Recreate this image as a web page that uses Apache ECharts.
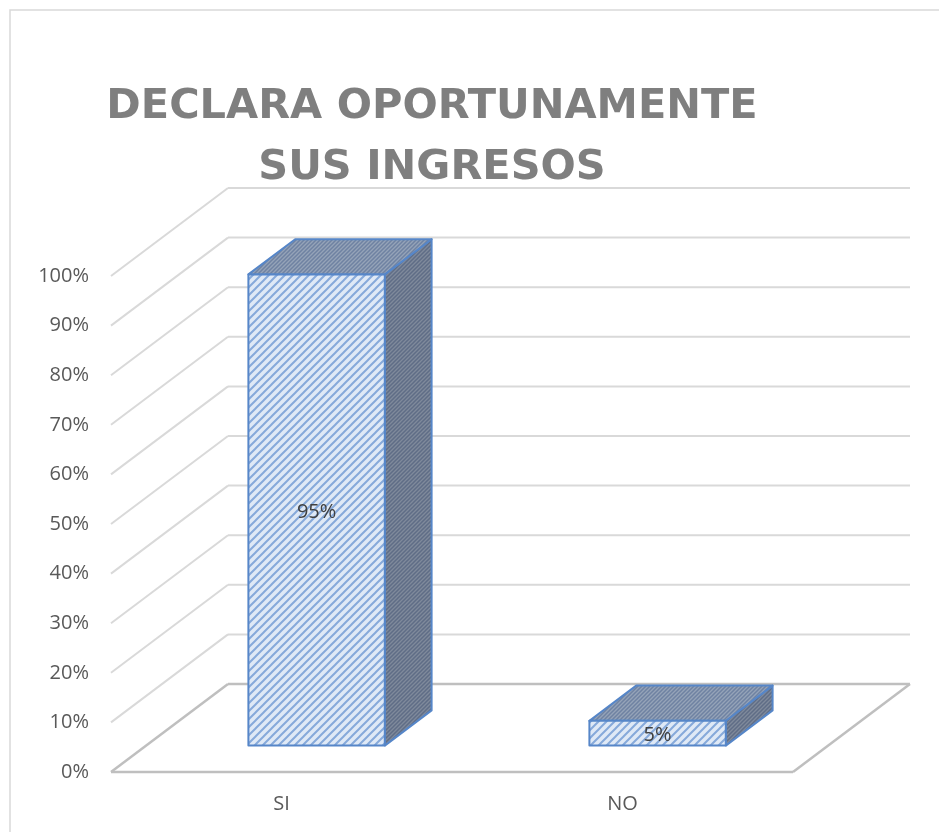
<!DOCTYPE html>
<html>
<head>
<meta charset="utf-8">
<script src="https://cdn.jsdelivr.net/npm/echarts@6/dist/echarts.min.js"></script>
<style>
  html, body { margin: 0; padding: 0; background: #fff; }
  #chart { width: 939px; height: 832px; }
</style>
</head>
<body>
<div id="chart"></div>
<script>
var categories = ['SI', 'NO'];
var values = [95, 5];
var valueLabels = ['95%', '5%'];
var yTicks = [0, 10, 20, 30, 40, 50, 60, 70, 80, 90, 100];

// oblique depth of the 3d box
var DX = 117, DY = -88;

function makePattern(size, bg, fg, lw) {
	var c = document.createElement('canvas');
	c.width = size;
	c.height = size;
	var ctx = c.getContext('2d');
	ctx.fillStyle = bg;
	ctx.fillRect(0, 0, size, size);
	ctx.strokeStyle = fg;
	ctx.lineWidth = lw;
	ctx.beginPath();
	ctx.moveTo(-1, size + 1);
	ctx.lineTo(size + 1, -1);
	ctx.moveTo(-1, 1);
	ctx.lineTo(1, -1);
	ctx.moveTo(size - 1, size + 1);
	ctx.lineTo(size + 1, size - 1);
	ctx.stroke();
	return { image: c, repeat: 'repeat' };
}

var frontFill = makePattern(8, '#dfe9f6', '#86a9da', 2);
var topFill = makePattern(4, '#95a3b8', '#6f82a2', 1.5);
var sideFill = makePattern(4, '#7f8a9b', '#5f6d86', 1.5);
var edgeColor = '#5686c8';

function renderWalls(params, api) {
	var cs = params.coordSys;
	var v = api.value(1);
	var y = api.coord([0, v])[1];
	var x0 = cs.x, x1 = cs.x + cs.width;
	var floor = v === 0;
	var st = { stroke: floor ? '#bfbfbf' : '#d9d9d9', lineWidth: floor ? 2.5 : 2, fill: null };
	var children = [
		{ type: 'line', shape: { x1: x0, y1: y, x2: x0 + DX, y2: y + DY }, style: st },
		{ type: 'line', shape: { x1: x0 + DX, y1: y + DY, x2: x1 + DX, y2: y + DY }, style: st }
	];
	if (floor) {
		children.push({ type: 'line', shape: { x1: x0, y1: y, x2: x1, y2: y }, style: st });
		children.push({ type: 'line', shape: { x1: x1, y1: y, x2: x1 + DX, y2: y + DY }, style: st });
	}
	return { type: 'group', children: children };
}

function renderBar(params, api) {
	var idx = api.value(0);
	var v = api.value(1);
	var base = api.coord([idx, 0]);
	var topPt = api.coord([idx, v]);
	var w = api.size([1, 0])[0] * 0.4;
	var fdx = DX * 0.3, fdy = DY * 0.3;
	var bdx = DX * 0.4, bdy = DY * 0.4;
	var l = base[0] - w / 2 + fdx, r = base[0] + w / 2 + fdx;
	var b = base[1] + fdy, t = topPt[1] + fdy;
	var line = { stroke: edgeColor, lineWidth: 2, lineJoin: 'round' };
	return {
		type: 'group',
		children: [
			{ type: 'polygon', shape: { points: [[r, b], [r + bdx, b + bdy], [r + bdx, t + bdy], [r, t]] },
				style: Object.assign({ fill: sideFill }, line) },
			{ type: 'polygon', shape: { points: [[l, t], [r, t], [r + bdx, t + bdy], [l + bdx, t + bdy]] },
				style: Object.assign({ fill: topFill }, line) },
			{ type: 'rect', shape: { x: l, y: t, width: r - l, height: b - t },
				style: Object.assign({ fill: frontFill }, line) },
			{ type: 'text', x: (l + r) / 2, y: (t + b) / 2 + 2,
				style: { text: valueLabels[idx], fill: '#404040', font: '20px "Open Sans"', align: 'center', verticalAlign: 'middle' } }
		]
	};
}

var chart = echarts.init(document.getElementById('chart'), null, { renderer: 'canvas' });
chart.setOption({
	animation: false,
	title: {
		text: 'DECLARA OPORTUNAMENTE\nSUS INGRESOS',
		left: 427,
		top: 72,
		textAlign: 'center',
		textStyle: {
			fontFamily: 'DejaVu Sans',
			fontWeight: 'bold',
			fontSize: 41.5,
			lineHeight: 61,
			color: '#7f7f7f'
		}
	},
	graphic: [{
		type: 'rect',
		shape: { x: 10, y: 10, width: 1000, height: 900 },
		style: { fill: null, stroke: '#d9d9d9', lineWidth: 1.5 },
		silent: true
	}],
	grid: { left: 111, right: 146, top: 276, bottom: 60 },
	xAxis: {
		type: 'category',
		data: categories,
		axisLine: { show: false },
		axisTick: { show: false },
		axisLabel: { margin: 22, color: '#595959', fontFamily: 'Open Sans', fontSize: 20 }
	},
	yAxis: {
		type: 'value',
		min: 0,
		max: 100,
		interval: 10,
		axisLine: { show: false },
		axisTick: { show: false },
		splitLine: { show: false },
		axisLabel: { margin: 22, color: '#595959', fontFamily: 'Open Sans', fontSize: 20, formatter: '{value}%' }
	},
	series: [{
		type: 'custom',
		renderItem: renderWalls,
		data: yTicks.map(function(v) { return [0, v]; }),
		silent: true,
		z: 1
	}, {
		type: 'custom',
		renderItem: renderBar,
		data: values.map(function(v, i) { return [i, v]; }),
		silent: true,
		z: 2
	}]
});
</script>
</body>
</html>
